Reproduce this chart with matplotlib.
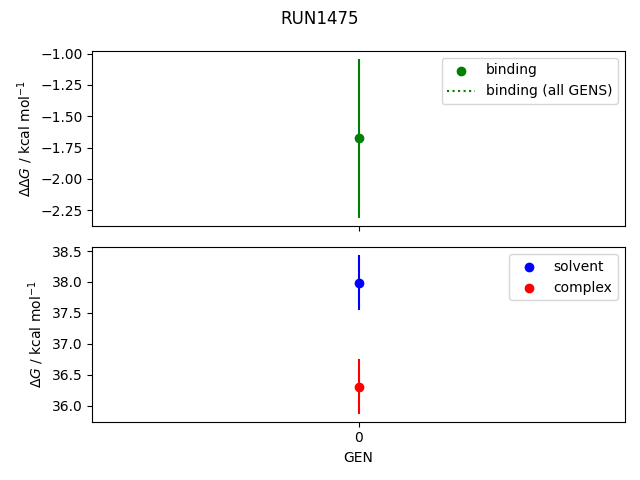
import matplotlib
matplotlib.use("Agg")
import matplotlib.pyplot as plt

run_name = "RUN1475"
gens = [0]
binding = [-1.675]
binding_err = [0.633]
solvent = [37.99]
solvent_err = [0.445]
complex_ = [36.31]
complex_err = [0.44]

fig, (ax1, ax2) = plt.subplots(2, 1, sharex=True, figsize=(6.4, 4.8), dpi=100)

ax1.errorbar(gens, binding, yerr=binding_err, fmt='none', ecolor='green')
ax1.scatter(gens, binding, color='green', label='binding')
ax1.plot([], [], ':', color='green', label='binding (all GENS)')
ax1.set_ylabel(r'$\Delta\Delta G$ / kcal mol$^{-1}$')
ax1.legend(loc='upper right')

ax2.errorbar(gens, solvent, yerr=solvent_err, fmt='none', ecolor='blue')
ax2.scatter(gens, solvent, color='blue', label='solvent')
ax2.errorbar(gens, complex_, yerr=complex_err, fmt='none', ecolor='red')
ax2.scatter(gens, complex_, color='red', label='complex')
ax2.set_ylabel(r'$\Delta G$ / kcal mol$^{-1}$')
ax2.set_xlabel('GEN')
ax2.set_xticks(gens)
ax2.legend(loc='upper right')

fig.suptitle(run_name)
fig.tight_layout()
fig.savefig('out.png')
